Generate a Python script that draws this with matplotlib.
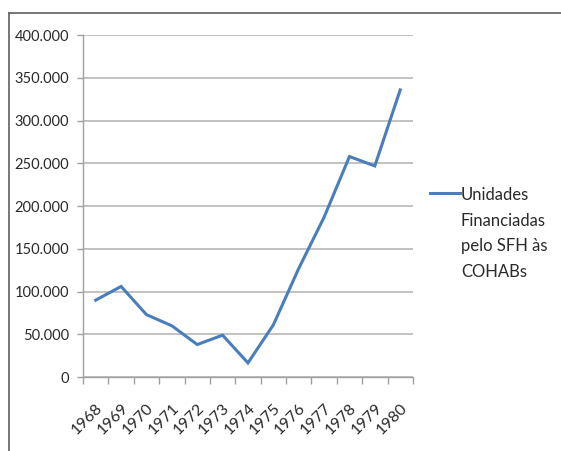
import matplotlib
matplotlib.use("Agg")
import matplotlib.pyplot as plt
from matplotlib.lines import Line2D
from matplotlib.ticker import FuncFormatter, FixedLocator

# unidades financiadas pelo SFH as COHABs, por ano
anos = ["1968", "1969", "1970", "1971", "1972", "1973", "1974",
        "1975", "1976", "1977", "1978", "1979", "1980"]
unidades = [90000, 106000, 73000, 60000, 38000, 49000, 16500,
            61000, 127000, 187000, 258000, 247000, 336000]
serie = "Unidades\nFinanciadas\npelo SFH às\nCOHABs"

plt.rcParams['font.family'] = ['Lato', 'DejaVu Sans']

fig = plt.figure(figsize=(5.61, 4.51), dpi=100)
ax = fig.add_axes([0.148, 0.164, 0.588, 0.758])

x = range(len(anos))
ax.plot(x, unidades, color='#4a7ebb', lw=2.2, label=serie,
        solid_joinstyle='miter')

ax.set_xlim(-0.5, len(anos) - 0.5)
ax.set_ylim(0, 400000)
ax.set_yticks(range(0, 400001, 50000))
ax.yaxis.set_major_formatter(FuncFormatter(
    lambda v, p: "0" if v == 0 else "{:,.0f}".format(v).replace(",", ".")))
ax.grid(axis='y', color='#b8b8b8', lw=1.2)
ax.set_axisbelow(True)

ax.set_xticks(list(x))
ax.set_xticklabels(anos, rotation=45, ha='right', rotation_mode='anchor')
# category boundaries get the tick marks
ax.xaxis.set_minor_locator(FixedLocator([i - 0.5 for i in range(len(anos) + 1)]))
ax.tick_params(axis='x', which='major', length=0, pad=17, labelsize=11.5,
               colors='#2a2a2a')
ax.tick_params(axis='x', which='minor', length=5, width=1, color='#a0a0a0')
ax.tick_params(axis='y', length=4, width=1, color='#a0a0a0', pad=6,
               labelsize=10.5, labelcolor='#2a2a2a')

for s in ['top', 'right']:
    ax.spines[s].set_visible(False)
for s in ['left', 'bottom']:
    ax.spines[s].set_color('#a0a0a0')
    ax.spines[s].set_linewidth(1)

leg = ax.legend(loc='upper left', bbox_to_anchor=(1.052, 0.556), frameon=False,
                fontsize=12, handlelength=1.8, handletextpad=0.05,
                borderpad=0, borderaxespad=0)
for t in leg.get_texts():
    t.set_linespacing(1.75)
    t.set_color('#2a2a2a')
# put the line sample next to the first line of the label
for row in leg._legend_handle_box.get_children()[0].get_children():
    row.align = "top"

# outer border, only top and left edges
fig.add_artist(Line2D([9 / 561, 1], [1 - 12.5 / 451, 1 - 12.5 / 451],
                      transform=fig.transFigure, color='#606060', lw=1.2))
fig.add_artist(Line2D([9 / 561, 9 / 561], [0, 1 - 12.5 / 451],
                      transform=fig.transFigure, color='#606060', lw=1.2))

fig.savefig("out.png", dpi=100)
